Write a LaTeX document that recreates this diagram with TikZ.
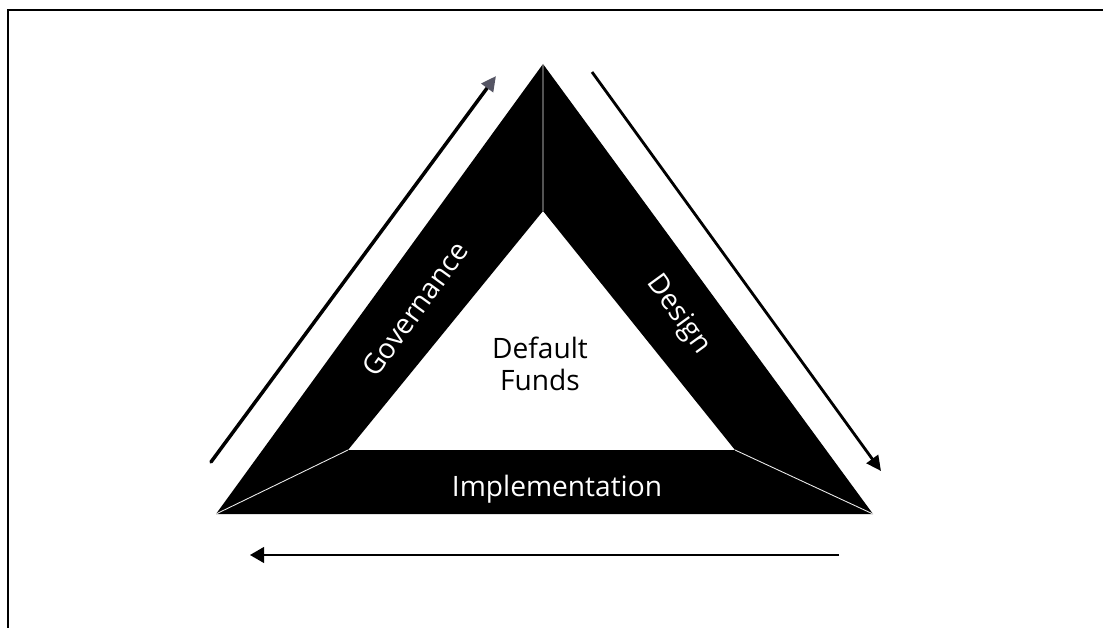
\documentclass[tikz,border=0pt]{standalone}
\usepackage{fontspec}
\setmainfont{Open Sans}
\usetikzlibrary{arrows.meta}
\definecolor{tipgray}{RGB}{85,85,100}

\begin{document}
\begin{tikzpicture}[x=0.02cm, y=-0.02cm,
	seam/.style={draw=white!85!gray, line width=0.5pt},
	flow/.style={line width=2pt, -{Triangle[length=8.5pt,width=8pt]}},
	bandtext/.style={text=white, font=\fontsize{16}{19}\selectfont}]
	\useasboundingbox (0,0) rectangle (1103,628);
	% frame
	\draw[line width=1pt] (8,628) -- (8,10) -- (1103,10);
	% triangle corners
	\coordinate (top) at (543,64);
	\coordinate (left) at (216,514);
	\coordinate (right) at (873,514);
	\coordinate (itop) at (543,211);
	\coordinate (ileft) at (348,450);
	\coordinate (iright) at (735,450);
	\fill[black, even odd rule] (top) -- (right) -- (left) -- cycle
		(itop) -- (iright) -- (ileft) -- cycle;
	\draw[seam] (top) -- (itop) (left) -- (ileft) (right) -- (iright);
	% labels
	\node[bandtext, rotate=54] (gov) at (415,309) {Governance};
	\node[bandtext, rotate=-54] (design) at (678,315) {Design};
	\node[bandtext, anchor=base] (impl) at (557,497) {Implementation};
	\node[align=center, font=\fontsize{16}{18}\selectfont] (funds) at (540,364) {Default\\Funds};
	% arrows
	\coordinate (govs) at (211,462);
	\coordinate (gove) at (496,76);
	\coordinate (dess) at (592,72);
	\coordinate (dese) at (881,471);
	\coordinate (imps) at (839,555);
	\coordinate (impe) at (250,555);
	\draw[flow, line cap=round, -{Triangle[length=8.5pt,width=8pt,color=tipgray]}] (govs) -- (gove);
	\draw[flow, line width=1.6pt] (dess) -- (dese);
	\draw[flow, line width=1pt, -{Triangle[length=8pt,width=9pt]}] (imps) -- (impe);
\end{tikzpicture}
\end{document}
